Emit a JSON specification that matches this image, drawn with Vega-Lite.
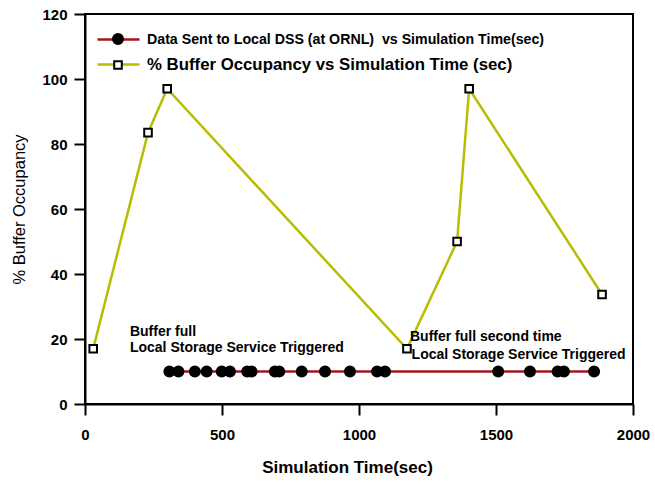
{
  "$schema": "https://vega.github.io/schema/vega-lite/v6.json",
  "autosize": {"type": "none"},
  "padding": {"left": 85, "top": 14, "right": 22, "bottom": 81},
  "width": 548,
  "height": 390,
  "background": "white",
  "config": {
    "font": "Liberation Sans",
    "view": {"stroke": "black", "strokeWidth": 2},
    "axis": {
      "grid": false,
      "domainColor": "black",
      "domainWidth": 2,
      "tickColor": "black",
      "tickWidth": 2,
      "tickSize": 11,
      "labelColor": "black",
      "labelFont": "Liberation Sans",
      "labelFontWeight": "bold",
      "labelFontSize": 15,
      "titleColor": "black",
      "titleFont": "Liberation Sans"
    }
  },
  "datasets": {
    "series": [
      {"series": "Data Sent to Local DSS (at ORNL)\u00a0 vs Simulation Time(sec)", "time": 308, "value": 10},
      {"series": "Data Sent to Local DSS (at ORNL)\u00a0 vs Simulation Time(sec)", "time": 341, "value": 10},
      {"series": "Data Sent to Local DSS (at ORNL)\u00a0 vs Simulation Time(sec)", "time": 401, "value": 10},
      {"series": "Data Sent to Local DSS (at ORNL)\u00a0 vs Simulation Time(sec)", "time": 444, "value": 10},
      {"series": "Data Sent to Local DSS (at ORNL)\u00a0 vs Simulation Time(sec)", "time": 499, "value": 10},
      {"series": "Data Sent to Local DSS (at ORNL)\u00a0 vs Simulation Time(sec)", "time": 529, "value": 10},
      {"series": "Data Sent to Local DSS (at ORNL)\u00a0 vs Simulation Time(sec)", "time": 592, "value": 10},
      {"series": "Data Sent to Local DSS (at ORNL)\u00a0 vs Simulation Time(sec)", "time": 608, "value": 10},
      {"series": "Data Sent to Local DSS (at ORNL)\u00a0 vs Simulation Time(sec)", "time": 693, "value": 10},
      {"series": "Data Sent to Local DSS (at ORNL)\u00a0 vs Simulation Time(sec)", "time": 709, "value": 10},
      {"series": "Data Sent to Local DSS (at ORNL)\u00a0 vs Simulation Time(sec)", "time": 791, "value": 10},
      {"series": "Data Sent to Local DSS (at ORNL)\u00a0 vs Simulation Time(sec)", "time": 876, "value": 10},
      {"series": "Data Sent to Local DSS (at ORNL)\u00a0 vs Simulation Time(sec)", "time": 967, "value": 10},
      {"series": "Data Sent to Local DSS (at ORNL)\u00a0 vs Simulation Time(sec)", "time": 1066, "value": 10},
      {"series": "Data Sent to Local DSS (at ORNL)\u00a0 vs Simulation Time(sec)", "time": 1095, "value": 10},
      {"series": "Data Sent to Local DSS (at ORNL)\u00a0 vs Simulation Time(sec)", "time": 1508, "value": 10},
      {"series": "Data Sent to Local DSS (at ORNL)\u00a0 vs Simulation Time(sec)", "time": 1624, "value": 10},
      {"series": "Data Sent to Local DSS (at ORNL)\u00a0 vs Simulation Time(sec)", "time": 1725, "value": 10},
      {"series": "Data Sent to Local DSS (at ORNL)\u00a0 vs Simulation Time(sec)", "time": 1748, "value": 10},
      {"series": "Data Sent to Local DSS (at ORNL)\u00a0 vs Simulation Time(sec)", "time": 1858, "value": 10},
      {"series": "% Buffer Occupancy vs Simulation Time (sec)", "time": 30, "value": 17},
      {"series": "% Buffer Occupancy vs Simulation Time (sec)", "time": 230, "value": 83.5},
      {"series": "% Buffer Occupancy vs Simulation Time (sec)", "time": 300, "value": 97},
      {"series": "% Buffer Occupancy vs Simulation Time (sec)", "time": 1175, "value": 17},
      {"series": "% Buffer Occupancy vs Simulation Time (sec)", "time": 1358, "value": 50},
      {"series": "% Buffer Occupancy vs Simulation Time (sec)", "time": 1402, "value": 97},
      {"series": "% Buffer Occupancy vs Simulation Time (sec)", "time": 1887, "value": 33.7}
    ],
    "notes": [
      {"time": 164, "value": 22.2, "label": "Buffer full"},
      {"time": 164, "value": 17.2, "label": "Local Storage Service Triggered"},
      {"time": 1186, "value": 20.6, "label": "Buffer full second time"},
      {"time": 1192, "value": 15.2, "label": "Local Storage Service Triggered"}
    ]
  },
  "encoding": {
    "x": {
      "field": "time", "type": "quantitative",
      "scale": {"domain": [0, 2000], "nice": false},
      "axis": {"values": [0, 500, 1000, 1500, 2000], "format": "d", "title": "Simulation Time(sec)", "titleFontSize": 17, "titleFontWeight": "bold", "titleX": 262, "labelPadding": 12, "titlePadding": 17, "labelFlush": false}
    },
    "y": {
      "field": "value", "type": "quantitative",
      "scale": {"domain": [0, 120], "nice": false},
      "axis": {"values": [0, 20, 40, 60, 80, 100, 120], "title": "% Buffer Occupancy", "titleFontSize": 16.5, "titleFontWeight": "normal", "labelPadding": 7, "titlePadding": 14}
    }
  },
  "layer": [
    {
      "data": {"name": "series"},
      "mark": {"type": "line", "strokeWidth": 2.5},
      "encoding": {
        "color": {
          "field": "series", "type": "nominal",
          "sort": ["Data Sent to Local DSS (at ORNL)\u00a0 vs Simulation Time(sec)", "% Buffer Occupancy vs Simulation Time (sec)"],
          "scale": {"range": ["#a3161b", "#b9bd00"]},
          "legend": {
            "orient": "none", "legendX": 14, "legendY": 14, "title": null, "padding": 0,
            "symbolType": "M-2.1,0L2.1,0", "symbolSize": 400, "symbolStrokeWidth": 2.5,
            "symbolOffset": 8, "labelOffset": 17, "rowPadding": 6,
            "labelFont": "Liberation Sans", "labelFontWeight": "bold", "labelColor": "black", "labelFontSize": 16.8, "labelLimit": 600,
            "encode": {"labels": {"update": {"fontSize": {"signal": "datum.index === 0 ? 14.2 : 16.8"}}}}
          }
        }
      }
    },
    {
      "data": {"name": "series"},
      "mark": {"type": "point", "filled": true, "size": 400, "stroke": "black", "strokeWidth": 2, "opacity": 1},
      "encoding": {
        "shape": {
          "field": "series", "type": "nominal",
          "scale": {
            "domain": ["Data Sent to Local DSS (at ORNL)\u00a0 vs Simulation Time(sec)", "% Buffer Occupancy vs Simulation Time (sec)"],
            "range": ["M0.5,0A0.5,0.5,0,1,1,-0.5,0A0.5,0.5,0,1,1,0.5,0Z", "M-0.38,-0.38L0.38,-0.38L0.38,0.38L-0.38,0.38Z"]
          },
          "legend": {
            "orient": "top-left", "offset": 14, "title": null, "padding": 0,
            "symbolSize": 400, "symbolStrokeColor": "black", "symbolStrokeWidth": 2, "symbolOpacity": 1,
            "symbolOffset": 8, "labelOffset": 17, "rowPadding": 6,
            "labelFont": "Liberation Sans", "labelFontWeight": "bold", "labelOpacity": 0, "labelFontSize": 16.8, "labelLimit": 600,
            "encode": {"labels": {"update": {"fontSize": {"signal": "datum.index === 0 ? 14.2 : 16.8"}}}}
          }
        },
        "fill": {
          "field": "series", "type": "nominal",
          "scale": {
            "domain": ["Data Sent to Local DSS (at ORNL)\u00a0 vs Simulation Time(sec)", "% Buffer Occupancy vs Simulation Time (sec)"],
            "range": ["black", "white"]
          },
          "legend": {
            "orient": "top-left", "offset": 14, "title": null, "padding": 0,
            "symbolSize": 400, "symbolStrokeColor": "black", "symbolStrokeWidth": 2, "symbolOpacity": 1,
            "symbolOffset": 8, "labelOffset": 17, "rowPadding": 6,
            "labelFont": "Liberation Sans", "labelFontWeight": "bold", "labelOpacity": 0, "labelFontSize": 16.8, "labelLimit": 600,
            "encode": {"labels": {"update": {"fontSize": {"signal": "datum.index === 0 ? 14.2 : 16.8"}}}}
          }
        }
      }
    },
    {
      "data": {"name": "notes"},
      "mark": {"type": "text", "align": "left", "baseline": "middle", "font": "Liberation Sans", "fontWeight": "bold", "fontSize": 14, "color": "black"},
      "encoding": {
        "text": {"field": "label", "type": "nominal"}
      }
    }
  ]
}
